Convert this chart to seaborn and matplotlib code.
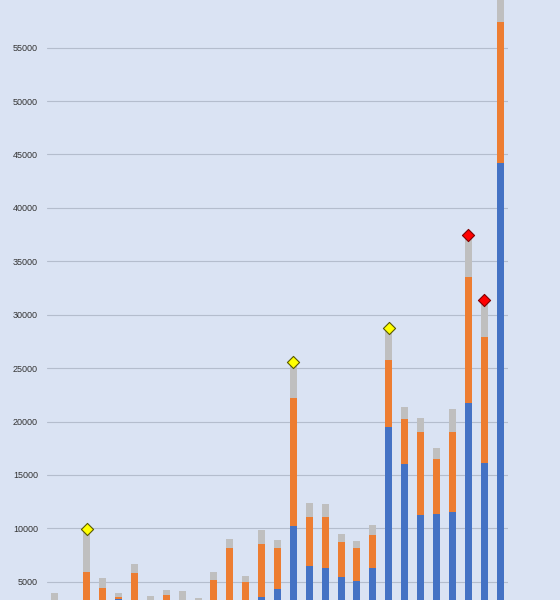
import matplotlib
matplotlib.use("Agg")
import matplotlib.pyplot as plt
import seaborn as sns
import pandas as pd
import numpy as np

# ---- data ----
categories = [str(i) for i in range(1, 30)]
blue = [1200, 800, 2500, 2400, 3350, 2500, 1500, 3300, 1500, 1200,
        2600, 3000, 2500, 3600, 4300, 10250, 6500, 6250, 5400, 5050,
        6250, 19450, 16000, 11250, 11300, 11500, 21750, 16150, 44200]
orange_top = [3000, 2300, 5950, 4450, 3550, 5800, 3100, 3750, 3200, 2800,
              5150, 8200, 4950, 8500, 8200, 22200, 11100, 11050, 8750, 8150,
              9400, 25800, 20200, 19050, 16450, 19000, 33550, 27900, 57400]
total = [3900, 3000, 9900, 5350, 3900, 6700, 3650, 4200, 4100, 3450,
         5900, 9000, 5500, 9800, 8950, 25550, 12400, 12300, 9450, 8800,
         10350, 28800, 21400, 20350, 17500, 21150, 37500, 31350, 60500]
orange = [o - b for o, b in zip(orange_top, blue)]
gray = [t - o for t, o in zip(total, orange_top)]

yellow_cats = ["3", "16", "22"]
red_cats = ["27", "28"]
yticks = [5000, 10000, 15000, 20000, 25000, 30000, 35000, 40000, 45000, 50000, 55000]

# ---- derived stacked table ----
df = pd.DataFrame({"cat": categories, "blue": blue, "orange": orange, "gray": gray})
df["c_blue"] = df["blue"]
df["c_orange"] = df["blue"] + df["orange"]
df["c_gray"] = df["c_orange"] + df["gray"]
tot_map = dict(zip(df["cat"], df["c_gray"]))
ydf = pd.DataFrame({"cat": yellow_cats, "v": [tot_map[c] for c in yellow_cats]})
rdf = pd.DataFrame({"cat": red_cats, "v": [tot_map[c] for c in red_cats]})

BG = "#DAE3F3"
sns.set_theme(style="white")
plt.rcParams["font.family"] = ["Liberation Sans", "DejaVu Sans"]

fig = plt.figure(figsize=(5.6, 6.0), dpi=100, facecolor=BG)
ax = fig.add_axes([47 / 560, 0, 461 / 560, 1])
ax.set_facecolor(BG)

bw = 0.44
sns.barplot(data=df, x="cat", y="c_gray", order=categories, color="#BFBFBF",
            saturation=1, width=bw, errorbar=None, linewidth=0, ax=ax, zorder=2)
sns.barplot(data=df, x="cat", y="c_orange", order=categories, color="#ED7D31",
            saturation=1, width=bw, errorbar=None, linewidth=0, ax=ax, zorder=3)
sns.barplot(data=df, x="cat", y="c_blue", order=categories, color="#4472C4",
            saturation=1, width=bw, errorbar=None, linewidth=0, ax=ax, zorder=4)

sns.stripplot(data=ydf, x="cat", y="v", order=categories, jitter=False, marker="D",
              color="#FFFF00", edgecolor="#595900", linewidth=0.8, size=6.2, ax=ax, zorder=6)
sns.stripplot(data=rdf, x="cat", y="v", order=categories, jitter=False, marker="D",
              color="#FF0000", edgecolor="#7F0000", linewidth=0.8, size=6.2, ax=ax, zorder=6)

ax.set_xlim(-0.5, len(categories) - 0.5)
ax.set_ylim(3287, 59466)
ax.set_yticks(yticks)
ax.set_yticklabels([str(t) for t in yticks], fontsize=6.5, color="#333333")
ax.set_xticks([])
ax.tick_params(axis="y", length=0, pad=6.5)
ax.yaxis.grid(True, color="#B4BDCD", linewidth=0.8, zorder=0)
ax.set_axisbelow(True)
ax.set_xlabel("")
ax.set_ylabel("")
for s in ax.spines.values():
    s.set_visible(False)

fig.savefig("out.png", dpi=100, facecolor=BG)
